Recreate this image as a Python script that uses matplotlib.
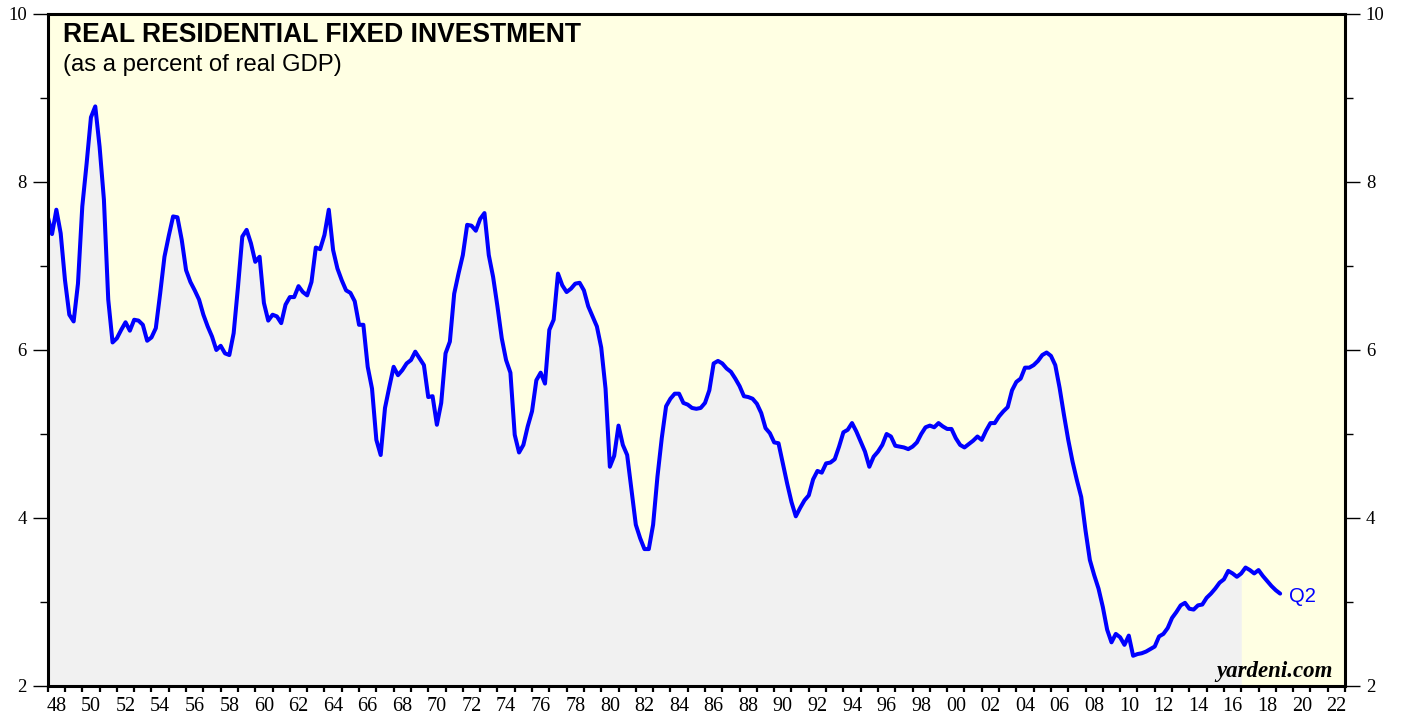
import matplotlib
matplotlib.use("Agg")
import matplotlib.pyplot as plt
import numpy as np

# ---- data: real residential fixed investment, % of real GDP (quarterly, from 1948Q1) ----
start_year = 1948
v1948_1959 = [7.59, 7.38, 7.67, 7.39, 6.83, 6.42, 6.34, 6.79, 7.71, 8.22, 8.77, 8.90,
              8.42, 7.79, 6.60, 6.09, 6.14, 6.24, 6.33, 6.23, 6.36, 6.35, 6.30, 6.11,
              6.15, 6.26, 6.67, 7.11, 7.36, 7.59, 7.58, 7.31, 6.95, 6.81, 6.71, 6.60,
              6.42, 6.28, 6.16, 6.00, 6.05, 5.96, 5.94, 6.20, 6.75, 7.35, 7.43, 7.27]
v1960_1969 = [7.05, 7.11, 6.56, 6.35, 6.42, 6.40, 6.32, 6.54, 6.63, 6.63, 6.76, 6.69,
              6.65, 6.81, 7.22, 7.20, 7.37, 7.67, 7.19, 6.97, 6.83, 6.71, 6.68, 6.58,
              6.30, 6.30, 5.80, 5.54, 4.93, 4.75, 5.31, 5.56, 5.80, 5.70, 5.76, 5.84,
              5.88, 5.98, 5.90, 5.82]
v1970_1979 = [5.44, 5.45, 5.11, 5.37, 5.96, 6.10, 6.67, 6.91, 7.13, 7.49, 7.48, 7.42,
              7.56, 7.63, 7.13, 6.87, 6.52, 6.14, 5.88, 5.73, 4.99, 4.78, 4.87, 5.09,
              5.27, 5.64, 5.73, 5.60, 6.24, 6.36, 6.91, 6.77, 6.69, 6.73, 6.79, 6.80,
              6.71, 6.52, 6.40, 6.28]
v1980_1989 = [6.03, 5.54, 4.61, 4.74, 5.10, 4.87, 4.75, 4.33, 3.92, 3.76, 3.63, 3.63,
              3.92, 4.49, 4.95, 5.33, 5.42, 5.48, 5.48, 5.37, 5.35, 5.31, 5.30, 5.31,
              5.37, 5.52, 5.84, 5.87, 5.84, 5.78, 5.74, 5.66, 5.57, 5.45, 5.44, 5.42,
              5.36, 5.25, 5.07, 5.01]
v1990_1999 = [4.90, 4.89, 4.65, 4.41, 4.19, 4.02, 4.12, 4.21, 4.27, 4.46, 4.56, 4.54,
              4.65, 4.66, 4.70, 4.85, 5.02, 5.05, 5.13, 5.03, 4.91, 4.79, 4.61, 4.73,
              4.79, 4.87, 5.00, 4.97, 4.86, 4.85, 4.84, 4.82, 4.85, 4.90, 5.00, 5.08,
              5.10, 5.08, 5.13, 5.09]
v2000_2009 = [5.06, 5.06, 4.95, 4.87, 4.84, 4.88, 4.92, 4.97, 4.93, 5.04, 5.13, 5.13,
              5.21, 5.27, 5.32, 5.52, 5.62, 5.66, 5.79, 5.79, 5.82, 5.87, 5.94, 5.97,
              5.93, 5.82, 5.55, 5.23, 4.93, 4.67, 4.45, 4.25, 3.85, 3.50, 3.32, 3.16,
              2.94, 2.67, 2.52, 2.62]
v2010_2019 = [2.58, 2.49, 2.60, 2.36, 2.38, 2.39, 2.41, 2.44, 2.47, 2.59, 2.62, 2.69,
              2.81, 2.88, 2.96, 2.99, 2.92, 2.91, 2.96, 2.97, 3.05, 3.10, 3.16, 3.23,
              3.27, 3.37, 3.34, 3.30, 3.34, 3.41, 3.38, 3.34, 3.38, 3.31, 3.25, 3.19,
              3.14, 3.10]
shade_end = 2017.0
last_label = "Q2"
year_labels = ["48", "50", "52", "54", "56", "58", "60", "62", "64", "66", "68", "70",
               "72", "74", "76", "78", "80", "82", "84", "86", "88", "90", "92", "94",
               "96", "98", "00", "02", "04", "06", "08", "10", "12", "14", "16", "18",
               "20", "22"]
y_ticks = [2, 4, 6, 8, 10]

values = np.array(v1948_1959 + v1960_1969 + v1970_1979 + v1980_1989 +
                  v1990_1999 + v2000_2009 + v2010_2019)
t = start_year + np.arange(len(values)) / 4.0

# ---- figure ----
W, H = 1403, 717
fig = plt.figure(figsize=(W / 100, H / 100), dpi=100)
L, R, T, B = 47.7, 1345.0, 14.0, 686.0
ax = fig.add_axes([L / W, 1 - B / H, (R - L) / W, (B - T) / H])
ax.set_facecolor("#FFFFE3")

ax.set_xlim(1948, 2023)
ax.set_ylim(2, 10)

mask = t <= shade_end
ax.fill_between(t[mask], values[mask], 2, color="#F1F1F1", linewidth=0, zorder=1)
ax.plot(t, values, color="#0000FF", linewidth=2.9, solid_joinstyle="round",
        solid_capstyle="round", zorder=3)
ax.annotate(last_label, xy=(t[-1], values[-1]), xytext=(6.5, -2), textcoords="offset points",
            color="#0000FF", fontsize=14.5, family="Liberation Sans", va="center", ha="left")

# spines
for s in ax.spines.values():
    s.set_linewidth(2.2)
    s.set_color("black")
    s.set_zorder(5)

# x ticks
ax.set_xticks(np.arange(1948, 2024, 1))
ax.set_xticklabels([])
ax.set_xticks(np.arange(1948, 2023, 2) + 0.5, minor=True)
ax.set_xticklabels(year_labels, minor=True, family="Liberation Serif", fontsize=14.5)
ax.tick_params(axis="x", which="major", direction="out", length=4.5, width=1.6, color="black")
ax.tick_params(axis="x", which="minor", length=0, pad=8)

# y ticks
ax.set_yticks(y_ticks)
ax.set_yticks([3, 5, 7, 9], minor=True)
ax.set_yticklabels([str(v) for v in y_ticks], family="Liberation Serif", fontsize=13.5)
ax.tick_params(axis="y", which="major", direction="out", length=11, width=1.0,
               left=True, right=True, labelleft=True, labelright=True, pad=4)
ax.tick_params(axis="y", which="minor", direction="out", length=5.5, width=1.0,
               left=True, right=True)

# texts
fig.text(63 / W, 1 - 42.5 / H, "REAL RESIDENTIAL FIXED INVESTMENT", family="Liberation Sans",
         fontweight="bold", fontsize=19.1, ha="left", va="baseline")
fig.text(63 / W, 1 - 70.5 / H, "(as a percent of real GDP)", family="Liberation Sans",
         fontsize=17.2, ha="left", va="baseline")
fig.text(1333 / W, 1 - 677 / H, "yardeni.com", family="Liberation Serif", fontweight="bold",
         style="italic", fontsize=16.5, ha="right", va="baseline")

fig.savefig("out.png", dpi=100, facecolor="white")
